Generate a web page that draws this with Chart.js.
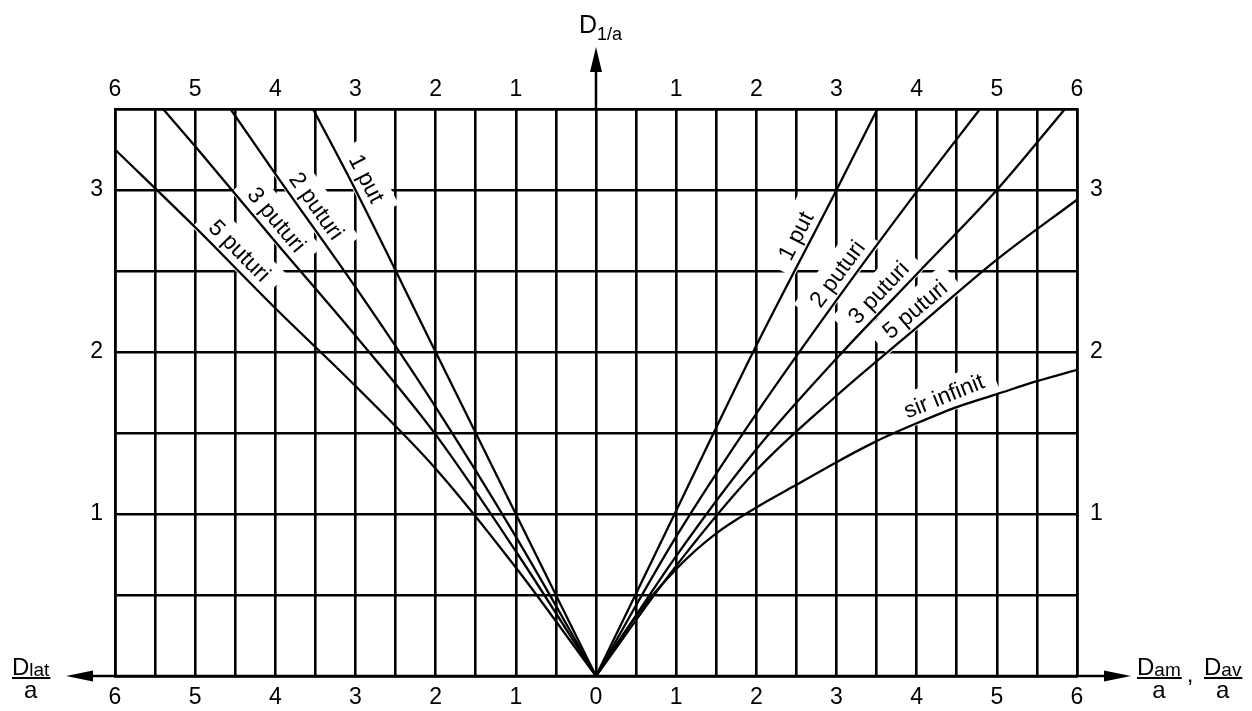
<!DOCTYPE html>
<html>
<head>
<meta charset="utf-8">
<script src="https://cdn.jsdelivr.net/npm/chart.js@4.4.1/dist/chart.umd.min.js"></script>
<style>
    html, body { margin: 0; padding: 0; background: #fff; }
    canvas { display: block; }
</style>
</head>
<body>
<canvas id="nomogram" width="1252" height="711"></canvas>
<script>
const xRange = [-6, 6];
const yRange = [0, 3.5];
const gridStep = 0.5;

// left half: D_lat/a (drawn as negative x)
const lat1X = [-3.53, -3, -2, -1, 0];
const lat1Y = [3.5, 3.0, 2.0, 1.0, 0];
const lat2X = [-4.56, -4, -3, -2, -1, 0];
const lat2Y = [3.5, 3.1, 2.4, 1.66, 0.86, 0];
const lat3X = [-5.4, -5, -4, -3, -2, -1, 0];
const lat3Y = [3.5, 3.27, 2.68, 2.1, 1.49, 0.77, 0];
const lat5X = [-6, -5, -4, -3, -2, -1, 0];
const lat5Y = [3.25, 2.77, 2.27, 1.79, 1.28, 0.67, 0];

// right half: D_am/a, D_av/a
const am1X = [0, 1, 2, 3, 3.51];
const am1Y = [0, 1.02, 2.04, 3.0, 3.5];
const am2X = [0, 1, 2, 3, 4, 4.79];
const am2Y = [0, 0.86, 1.62, 2.32, 2.99, 3.5];
const am3X = [0, 1, 2, 3, 4, 5, 5.85];
const am3Y = [0, 0.74, 1.4, 1.96, 2.48, 3.0, 3.5];
const am5X = [0, 1, 2, 3, 4, 5, 6];
const am5Y = [0, 0.68, 1.27, 1.73, 2.15, 2.57, 2.94];
const infX = [0, 0.5, 1, 1.5, 2, 2.5, 3, 3.5, 4, 4.5, 5, 5.5, 6];
const infY = [0, 0.37, 0.66, 0.88, 1.04, 1.18, 1.32, 1.45, 1.56, 1.66, 1.74, 1.82, 1.89];

const curveNames = ["1 put", "2 puturi", "3 puturi", "5 puturi", "1 put", "2 puturi", "3 puturi", "5 puturi", "sir infinit"];
const curveXs = [lat1X, lat2X, lat3X, lat5X, am1X, am2X, am3X, am5X, infX];
const curveYs = [lat1Y, lat2Y, lat3Y, lat5Y, am1Y, am2Y, am3Y, am5Y, infY];
// where along each curve its name is written
const labelAt = [-3.03, -3.64, -4.13, -4.58, 2.66, 3.16, 3.66, 4.1, 4.41];

const fontFamily = "'Liberation Sans', Arial, sans-serif";
const tickFont = { family: fontFamily, size: 23 };
const isWhole = v => Math.abs(v - Math.round(v)) < 1e-6;

function yAt(xs, ys, v) {
    for (let i = 0; i < xs.length - 1; i++) {
        if (v >= xs[i] && v <= xs[i + 1]) {
            const t = (v - xs[i]) / (xs[i + 1] - xs[i]);
            return ys[i] + t * (ys[i + 1] - ys[i]);
        }
    }
    return ys[ys.length - 1];
}

function arrowHead(ctx, tipX, tipY, dx, dy, len, half) {
    // dx,dy: unit direction the arrow points to
    const bx = tipX - dx * len, by = tipY - dy * len;
    ctx.beginPath();
    ctx.moveTo(tipX, tipY);
    ctx.lineTo(bx - dy * half, by + dx * half);
    ctx.lineTo(bx + dy * half, by - dx * half);
    ctx.closePath();
    ctx.fill();
}

function fraction(ctx, parts, left, barY, sizeMain, sizeSub) {
    // parts: [main, subscript], drawn over a bar with "a" below
    ctx.font = sizeMain + "px " + fontFamily;
    const wMain = ctx.measureText(parts[0]).width;
    ctx.font = sizeSub + "px " + fontFamily;
    const wSub = ctx.measureText(parts[1]).width;
    const total = wMain + wSub;
    ctx.textAlign = "left";
    ctx.textBaseline = "alphabetic";
    ctx.font = sizeMain + "px " + fontFamily;
    ctx.fillText(parts[0], left, barY - 3);
    ctx.font = sizeSub + "px " + fontFamily;
    ctx.fillText(parts[1], left + wMain, barY - 2);
    ctx.fillRect(left, barY - 1, total + 1, 2);
    ctx.font = sizeMain + "px " + fontFamily;
    ctx.textAlign = "center";
    ctx.fillText("a", left + total / 2, barY + 20);
    return total;
}

const decorations = {
    id: "decorations",
    beforeDatasetsDraw(chart) {
        const { ctx, scales: { x, y } } = chart;
        ctx.save();
        ctx.font = "23px " + fontFamily;
        ctx.textAlign = "center";
        ctx.textBaseline = "middle";
        curveNames.forEach((name, i) => {
            const xs = curveXs[i], ys = curveYs[i], v = labelAt[i];
            const x0 = x.getPixelForValue(v - 0.1), y0 = y.getPixelForValue(yAt(xs, ys, v - 0.1));
            const x1 = x.getPixelForValue(v + 0.1), y1 = y.getPixelForValue(yAt(xs, ys, v + 0.1));
            const ang = Math.atan2(y1 - y0, x1 - x0);
            const off = 15;
            const cx = x.getPixelForValue(v) + Math.sin(ang) * off;
            const cy = y.getPixelForValue(yAt(xs, ys, v)) - Math.cos(ang) * off;
            const w = ctx.measureText(name).width;
            ctx.save();
            ctx.translate(cx, cy);
            ctx.rotate(ang);
            ctx.fillStyle = "#fff";
            ctx.fillRect(-w / 2 - 12, -17, w + 24, 34);
            ctx.fillStyle = "#000";
            ctx.fillText(name, 0, 1);
            ctx.restore();
        });
        ctx.restore();
    },
    afterDraw(chart) {
        const { ctx, chartArea: area, scales: { x } } = chart;
        const x0 = x.getPixelForValue(0);
        ctx.save();
        ctx.fillStyle = "#000";
        ctx.strokeStyle = "#000";
        ctx.lineWidth = 2.5;
        // horizontal axis with arrows both ways
        ctx.beginPath();
        ctx.moveTo(80, area.bottom);
        ctx.lineTo(1112, area.bottom);
        ctx.stroke();
        arrowHead(ctx, 66, area.bottom, -1, 0, 27, 5.5);
        arrowHead(ctx, 1131, area.bottom, 1, 0, 27, 5.5);
        // vertical axis arrow
        ctx.beginPath();
        ctx.moveTo(x0, area.top);
        ctx.lineTo(x0, 66);
        ctx.stroke();
        arrowHead(ctx, x0, 47, 0, -1, 25, 6);
        // D 1/a
        ctx.textAlign = "left";
        ctx.textBaseline = "alphabetic";
        ctx.font = "25px " + fontFamily;
        ctx.fillText("D", 579, 33);
        const wD = ctx.measureText("D").width;
        ctx.font = "18px " + fontFamily;
        ctx.fillText("1/a", 579 + wD, 40);
        // axis names
        fraction(ctx, ["D", "lat"], 12, area.bottom + 2, 24, 19);
        const w1 = fraction(ctx, ["D", "am"], 1137, area.bottom + 2, 24, 19);
        ctx.font = "24px " + fontFamily;
        ctx.textAlign = "left";
        ctx.fillText(",", 1137 + w1 + 6, area.bottom + 6);
        fraction(ctx, ["D", "av"], 1204, area.bottom + 2, 24, 19);
        ctx.restore();
    }
};

const curveDatasets = curveNames.map((name, i) => ({
    label: name,
    data: curveXs[i].map((v, j) => ({ x: v, y: curveYs[i][j] })),
    showLine: true,
    borderColor: "#000",
    borderWidth: 2.3,
    pointRadius: 0,
    cubicInterpolationMode: "monotone",
    fill: false
}));

const gridOpts = { color: "#000", lineWidth: 2.6, drawTicks: false };
const borderOpts = { color: "#000", width: 2.6 };

const ctx = document.getElementById("nomogram").getContext("2d");
const chart = new Chart(ctx, {
    type: "scatter",
    data: { datasets: curveDatasets },
    plugins: [decorations],
    options: {
        responsive: false,
        animation: false,
        layout: { padding: 0 },
        plugins: { legend: { display: false }, tooltip: { enabled: false } },
        scales: {
            x: {
                type: "linear", position: "bottom", min: xRange[0], max: xRange[1],
                ticks: { stepSize: gridStep, autoSkip: false, maxRotation: 0, color: "#000", font: tickFont, padding: 8,
                    callback: v => isWhole(v) ? String(Math.abs(Math.round(v))) : "" },
                grid: gridOpts, border: borderOpts,
                afterFit: s => { s.height = 35; }
            },
            xTop: {
                type: "linear", position: "top", min: xRange[0], max: xRange[1],
                ticks: { stepSize: gridStep, autoSkip: false, maxRotation: 0, color: "#000", font: tickFont, padding: -2,
                    callback: v => (isWhole(v) && Math.round(v) !== 0) ? String(Math.abs(Math.round(v))) : "" },
                grid: { display: false }, border: borderOpts,
                afterFit: s => { s.height = 109; }
            },
            y: {
                type: "linear", position: "left", min: yRange[0], max: yRange[1],
                ticks: { stepSize: gridStep, autoSkip: false, color: "#000", font: tickFont, padding: 12,
                    callback: v => (isWhole(v) && v > 0) ? String(Math.round(v)) : "" },
                grid: gridOpts, border: borderOpts,
                afterFit: s => { s.width = 115; }
            },
            yRight: {
                type: "linear", position: "right", min: yRange[0], max: yRange[1],
                ticks: { stepSize: gridStep, autoSkip: false, color: "#000", font: tickFont, padding: 5,
                    callback: v => (isWhole(v) && v > 0) ? String(Math.round(v)) : "" },
                grid: { display: false }, border: borderOpts,
                afterFit: s => { s.width = 175; }
            }
        }
    }
});
</script>
</body>
</html>
